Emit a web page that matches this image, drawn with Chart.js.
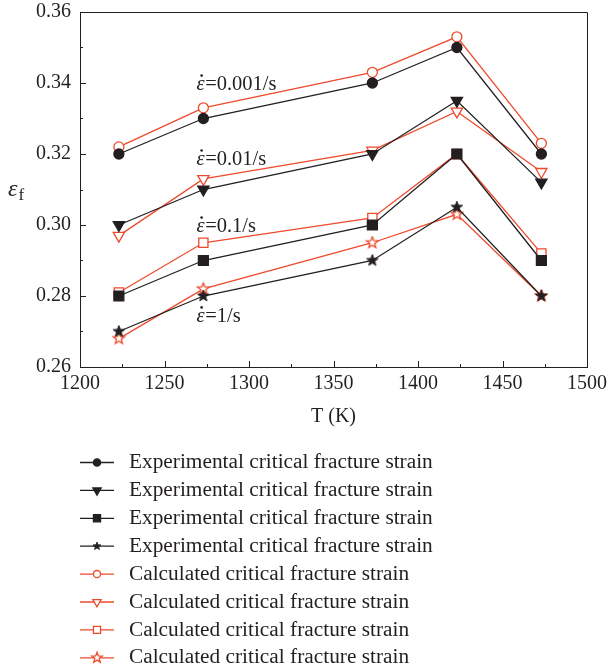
<!DOCTYPE html>
<html><head><meta charset="utf-8">
<script src="https://cdn.jsdelivr.net/npm/chart.js@4.4.1/dist/chart.umd.min.js"></script>
<style>html,body{margin:0;padding:0;background:#fff}</style>
</head><body>
<canvas id="c" width="609" height="672" style="display:block;width:609px;height:672px"></canvas>
<script>
// ---------- data ----------
const temperatures = [1223, 1273, 1373, 1423, 1473];
const expRate0001 = [0.320, 0.330, 0.340, 0.350, 0.320];
const expRate001  = [0.300, 0.310, 0.320, 0.335, 0.312];
const expRate01   = [0.280, 0.290, 0.300, 0.320, 0.290];
const expRate1    = [0.270, 0.280, 0.290, 0.305, 0.280];
const calRate0001 = [0.322, 0.333, 0.343, 0.353, 0.323];
const calRate001  = [0.297, 0.313, 0.321, 0.332, 0.315];
const calRate01   = [0.281, 0.295, 0.302, 0.320, 0.292];
const calRate1    = [0.268, 0.282, 0.295, 0.303, 0.280];
const seriesNames = [
  'Experimental critical fracture strain','Experimental critical fracture strain',
  'Experimental critical fracture strain','Experimental critical fracture strain',
  'Calculated critical fracture strain','Calculated critical fracture strain',
  'Calculated critical fracture strain','Calculated critical fracture strain'
];
const rateTexts = ['=0.001/s', '=0.01/s', '=0.1/s', '=1/s'];
const rateAnchorT = [1269, 1269, 1269, 1269];
const rateAnchorE = [0.3380, 0.3169, 0.2980, 0.2727];
const xMin = 1200, xMax = 1500, xStep = 50;
const yMin = 0.26, yMax = 0.36, yStep = 0.02;
const xTitle = 'T (K)';

// ---------- style ----------
const BLACK = '#231f20';
const RED = '#ee4a2c';
const SERIF = '"Liberation Serif", "DejaVu Serif", serif';

function starPath(ctx, cx, cy, R, r) {
  ctx.beginPath();
  for (let i = 0; i < 10; i++) {
    const rad = (i % 2 === 0) ? R : r;
    const a = -Math.PI / 2 + i * Math.PI / 5;
    const px = cx + rad * Math.cos(a), py = cy + rad * Math.sin(a);
    if (i === 0) ctx.moveTo(px, py); else ctx.lineTo(px, py);
  }
  ctx.closePath();
}
function makeStar(size, fill, stroke, lw) {
  const c = document.createElement('canvas');
  c.width = size; c.height = size;
  const g = c.getContext('2d');
  starPath(g, size / 2, size / 2, size / 2 - 1, (size / 2 - 1) * 0.42);
  g.fillStyle = fill; g.fill();
  g.lineWidth = lw; g.strokeStyle = stroke; g.stroke();
  return c;
}
const starBlack = makeStar(14, BLACK, BLACK, 1);
const starRed = makeStar(14, '#ffffff', RED, 1.3);

function ds(label, data, color, fill, style, radius, rotation) {
  return {
    label, data: data.map((v, i) => ({x: temperatures[i], y: v})),
    borderColor: color, borderWidth: 1.3,
    pointBackgroundColor: fill, pointBorderColor: color, pointBorderWidth: 1.3,
    pointStyle: style, pointRadius: radius, pointRotation: rotation || 0,
    pointHoverRadius: radius, tension: 0, fill: false
  };
}
const datasets = [
  ds(seriesNames[0], expRate0001, BLACK, BLACK, 'circle', 5),
  ds(seriesNames[1], expRate001, BLACK, BLACK, 'triangle', 6.5, 180),
  ds(seriesNames[2], expRate01, BLACK, BLACK, 'rect', 7),
  ds(seriesNames[3], expRate1, BLACK, BLACK, starBlack, 6),
  ds(seriesNames[4], calRate0001, RED, '#ffffff', 'circle', 5),
  ds(seriesNames[5], calRate001, RED, '#ffffff', 'triangle', 6.5, 180),
  ds(seriesNames[6], calRate01, RED, '#ffffff', 'rect', 6.5),
  ds(seriesNames[7], calRate1, RED, '#ffffff', starRed, 6)
];

const decorPlugin = {
  id: 'decor',
  afterDraw(chart) {
    const ctx = chart.ctx, a = chart.chartArea;
    const xs = chart.scales.x, ys = chart.scales.y;
    ctx.save();
    ctx.strokeStyle = BLACK; ctx.lineWidth = 1;
    // top/right frame
    ctx.beginPath();
    ctx.moveTo(a.left, a.top + 0.5); ctx.lineTo(a.right + 0.5, a.top + 0.5); ctx.lineTo(a.right + 0.5, a.bottom);
    ctx.stroke();
    // inward ticks
    ctx.beginPath();
    xs.ticks.forEach((t, i) => {
      const px = Math.round(xs.getPixelForValue(t.value)) + 0.5;
      ctx.moveTo(px, a.bottom); ctx.lineTo(px, a.bottom - 6);
      if (i < xs.ticks.length - 1) {
        const pm = Math.round(xs.getPixelForValue(t.value + xStep / 2)) + 0.5;
        ctx.moveTo(pm, a.bottom); ctx.lineTo(pm, a.bottom - 3);
      }
    });
    ys.ticks.forEach((t, i) => {
      const py = Math.round(ys.getPixelForValue(t.value)) + 0.5;
      ctx.moveTo(a.left, py); ctx.lineTo(a.left + 6, py);
      if (i < ys.ticks.length - 1) {
        const pm = Math.round(ys.getPixelForValue(t.value + yStep / 2)) + 0.5;
        ctx.moveTo(a.left, pm); ctx.lineTo(a.left + 3, pm);
      }
    });
    ctx.stroke();

    // y-axis title  ε_f
    ctx.fillStyle = BLACK;
    ctx.textBaseline = 'alphabetic'; ctx.textAlign = 'left';
    const yMid = (a.top + a.bottom) / 2;
    ctx.font = 'italic 24px ' + SERIF;
    ctx.fillText('ε', 8, yMid + 6);
    const ew = ctx.measureText('ε').width;
    ctx.font = '17px ' + SERIF;
    ctx.fillText('f', 8 + ew + 1, yMid + 10);

    // strain-rate annotations
    rateTexts.forEach((txt, i) => {
      const px = xs.getPixelForValue(rateAnchorT[i]);
      const py = ys.getPixelForValue(rateAnchorE[i]);
      ctx.font = 'italic 20.5px ' + SERIF;
      ctx.fillText('ε', px, py);
      const w = ctx.measureText('ε').width;
      ctx.beginPath();
      ctx.arc(px + w * 0.62, py - 14.5, 1.3, 0, Math.PI * 2);
      ctx.fill();
      ctx.font = '20.5px ' + SERIF;
      ctx.fillText(txt, px + w + 0.5, py);
    });

    // legend
    const lx0 = 80, lx1 = 114, tx = 129, ly0 = 462.5, dy = 27.9;
    ctx.font = '18px ' + SERIF;
    const target = 304;
    const fs = 18 * target / ctx.measureText(seriesNames[0]).width;
    ctx.font = fs.toFixed(2) + 'px ' + SERIF;
    ctx.textBaseline = 'middle';
    chart.data.datasets.forEach((d, i) => {
      const y = ly0 + i * dy;
      ctx.strokeStyle = d.borderColor; ctx.lineWidth = 1.3;
      ctx.beginPath(); ctx.moveTo(lx0, y); ctx.lineTo(lx1, y); ctx.stroke();
      const cx = (lx0 + lx1) / 2;
      if (typeof d.pointStyle === 'string') {
        ctx.fillStyle = d.pointBackgroundColor;
        ctx.strokeStyle = d.pointBorderColor;
        ctx.lineWidth = 1.3;
        const r = d.pointStyle === 'circle' ? 3.6 : (d.pointStyle === 'rect' ? 5 : 4.8);
        Chart.helpers.drawPoint(ctx, {pointStyle: d.pointStyle, rotation: d.pointRotation, radius: r, borderWidth: 1.3}, cx, y);
      } else {
        const isRed = d.borderColor === RED;
        const R = isRed ? 5.5 : 4.2;
        starPath(ctx, cx, y, R, R * 0.42);
        ctx.fillStyle = isRed ? '#ffffff' : BLACK; ctx.fill();
        ctx.strokeStyle = d.borderColor; ctx.lineWidth = isRed ? 1.3 : 0.8; ctx.stroke();
      }
      ctx.fillStyle = BLACK;
      ctx.fillText(d.label, tx, y);
    });
    ctx.restore();
  }
};

function noPad(s) { s.paddingTop = 0; s.paddingBottom = 0; s.paddingLeft = 0; s.paddingRight = 0; }

new Chart(document.getElementById('c'), {
  type: 'line',
  data: { datasets },
  options: {
    responsive: false, animation: false, devicePixelRatio: 1,
    layout: { padding: { left: 0, right: 22, top: 12, bottom: 240 } },
    plugins: { legend: { display: false }, tooltip: { enabled: false } },
    scales: {
      x: {
        type: 'linear', min: xMin, max: xMax,
        ticks: { stepSize: xStep, color: BLACK, padding: 5, font: { family: SERIF, size: 20 }, maxRotation: 0, callback: v => String(v) },
        grid: { display: false, drawTicks: false },
        border: { display: true, color: BLACK, width: 1 },
        title: { display: true, text: xTitle, color: BLACK, font: { family: SERIF, size: 20 }, padding: { top: 0, bottom: 3 } },
        afterFit(s) { s.height = 65; noPad(s); }
      },
      y: {
        type: 'linear', min: yMin, max: yMax,
        ticks: { stepSize: yStep, color: BLACK, padding: 9, font: { family: SERIF, size: 20 }, callback: v => v.toFixed(2) },
        grid: { display: false, drawTicks: false },
        border: { display: true, color: BLACK, width: 1 },
        afterFit(s) { s.width = 80; noPad(s); }
      }
    }
  },
  plugins: [decorPlugin]
});
</script>
</body></html>
